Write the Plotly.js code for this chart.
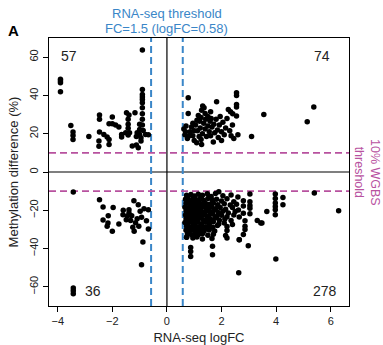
<!DOCTYPE html>
<html>
<head>
<meta charset="utf-8">
<script src="https://cdn.plot.ly/plotly-3.0.1.min.js"></script>
<style>html,body{margin:0;padding:0;background:#fff;}#chart{width:383px;height:345px;}</style>
</head>
<body>
<div id="chart"></div>
<script>
// Upper-left quadrant (down-regulated, hypermethylated)
const ulX = [-0.90,-3.9,-3.9,-3.9,-3.9,-3.52,-3.44,-3.44,-3.44,-2.86,-2.47,-2.47,-2.47,-2.49,-2.49,-2.31,-2.19,-2.12,-2.12,-2.0,-2.12,-2.0,-1.88,-1.76,-1.66,-1.66,-1.48,-1.39,-1.42,-1.42,-1.42,-1.51,-1.42,-1.37,-1.17,-1.27,-1.12,-1.05,-1.0,-1.0,-1.0,-0.9,-0.9,-0.9,-0.9,-0.9,-0.9,-0.9,-0.9,-0.9,-0.87,-0.78,-0.68,-1.09,-1.12,-0.95,-0.95];
const ulY = [63.7,48.4,47.5,46.6,41.9,24.3,20.9,19.1,17.0,18.6,29.8,27.5,20.9,16.2,13.4,19.6,18.3,17.0,14.4,28.7,25.2,25.2,24.5,23.5,19.6,18.3,31.0,29.8,27.5,24.9,22.8,20.5,19.3,20.5,31.0,13.6,14.1,12.7,24.9,22.2,19.6,43.1,40.5,39.2,37.9,36.2,33.6,30.4,27.5,24.5,21.7,19.6,19.4,20.5,18.6,17.9,16.2];

// Upper-right quadrant (up-regulated, hypermethylated)
const urX = [0.62,0.66,0.70,0.75,0.78,0.78,0.85,0.90,0.95,1.00,1.05,1.09,1.12,1.18,1.20,1.22,1.25,1.27,1.27,1.31,1.36,1.30,1.35,1.40,1.42,1.45,1.50,1.50,1.55,1.58,1.60,1.62,1.65,1.70,1.72,1.75,1.80,1.82,1.85,1.88,1.92,1.95,2.00,2.05,2.10,2.15,2.20,2.25,2.33,2.41,2.30,2.35,2.40,2.45,2.55,2.55,2.55,2.55,2.55,2.60,3.10,3.55,5.14,5.38,0.68,0.95,1.15,1.40,1.60,1.10,0.82,1.00,1.25,2.00];
const urY = [22.5,19.5,24.0,17.5,38.8,30.6,21.0,23.5,19.0,16.5,24.5,15.3,21.5,18.5,26.5,23.0,28.5,14.4,32.2,34.5,33.6,20.0,25.5,22.5,27.5,18.5,29.0,24.0,21.0,26.5,19.0,28.0,23.5,15.7,25.0,20.5,27.5,36.7,22.0,18.0,24.5,29.0,21.0,26.0,19.5,23.0,28.0,32.7,31.5,30.4,21.5,19.0,24.5,17.5,41.4,40.0,35.3,33.9,29.2,19.5,18.6,30.1,26.3,33.9,21.0,25.5,29.5,30.5,31.5,27.0,19.0,21.5,17.0,16.5];

// Lower-left quadrant (down-regulated, hypomethylated)
const llX = [-3.43,-2.47,-2.34,-1.97,-2.15,-2.34,-2.16,-2.19,-2.0,-1.76,-1.61,-1.49,-1.33,-1.39,-1.21,-1.05,-1.29,-1.39,-0.84,-0.68,-0.93,-1.09,-1.03,-1.25,-1.2,-0.68,-0.88,-0.93,-3.43,-3.43,-3.43,-0.75,-1.15,-1.6,-0.98,-1.45];
const llY = [-10.4,-14.5,-18.3,-18.5,-22.8,-25.1,-26.6,-28.4,-31.0,-27.2,-22.3,-24.9,-25.4,-19.7,-15.0,-17.1,-22.8,-21.4,-19.2,-19.7,-23.7,-24.4,-28.4,-28.9,-31.0,-29.8,-36.6,-48.4,-60.6,-62.0,-63.6,-25.5,-26.5,-20.0,-20.5,-23.0];

// Lower-right quadrant (up-regulated, hypomethylated)
const lrX = [
0.72,0.88,1.02,1.15,1.30,1.48,1.62,1.78,1.90,2.05,2.35,2.60,
0.68,0.80,0.95,1.08,1.22,1.35,1.50,1.66,1.82,2.00,2.20,2.45,2.80,
0.70,0.83,0.92,1.05,1.18,1.28,1.42,1.55,1.70,1.86,2.10,2.32,2.55,
0.66,0.78,0.90,1.00,1.12,1.25,1.38,1.52,1.64,1.78,1.95,2.15,2.40,2.62,3.04,
0.70,0.82,0.94,1.06,1.16,1.30,1.44,1.58,1.72,1.88,2.05,2.25,2.50,2.80,3.04,
0.68,0.80,0.92,1.04,1.14,1.26,1.40,1.54,1.68,1.82,2.00,2.20,2.45,2.65,
0.70,0.84,0.96,1.08,1.20,1.34,1.48,1.60,1.76,1.92,2.12,2.35,2.86,
0.66,0.78,0.90,1.02,1.14,1.28,1.42,1.56,1.70,1.90,2.10,2.40,
0.72,0.86,0.98,1.10,1.24,1.38,1.52,1.68,1.85,2.20,2.86,
0.70,0.82,0.96,1.08,1.22,1.36,1.55,1.75,2.20,2.86,
0.75,0.90,1.02,1.16,1.30,1.50,1.70,2.15,2.80,
0.72,0.95,1.10,1.30,1.65,2.20,2.65,
0.72,0.87,0.87,0.87,1.67,1.67,2.63,2.98,2.65,3.31,3.44,3.04,2.80,3.04,3.04,
3.97,3.97,3.97,3.97,3.97,3.97,4.25,4.25,3.66,3.48,3.99,5.40,6.29,
0.76,0.93,1.13,1.33,1.57,1.45,1.12,0.98,0.85,1.26,1.62,1.04];
const lrY = [
-12.1,-11.8,-12.5,-11.6,-12.2,-11.4,-12.8,-11.2,-10.3,-12.4,-12.0,-13.0,
-14.2,-14.8,-13.9,-14.5,-14.1,-14.9,-13.8,-14.6,-14.3,-15.2,-14.0,-15.5,-15.0,
-16.3,-16.8,-15.9,-16.5,-16.1,-17.0,-16.4,-16.9,-16.2,-17.1,-16.6,-17.3,-16.8,
-18.4,-18.9,-18.1,-18.7,-18.2,-19.0,-18.3,-18.8,-18.0,-19.2,-18.6,-19.4,-18.5,-19.8,-17.5,
-20.4,-20.9,-20.1,-20.7,-20.2,-21.0,-20.3,-20.8,-20.0,-21.2,-20.5,-21.4,-20.6,-21.5,-21.8,
-22.4,-22.9,-22.1,-22.7,-22.2,-23.0,-22.3,-22.8,-22.0,-23.2,-22.6,-23.4,-22.5,-23.5,
-24.4,-24.9,-24.1,-24.7,-24.2,-25.0,-24.3,-24.8,-24.0,-25.2,-24.6,-25.4,-25.5,
-26.4,-26.9,-26.1,-26.7,-26.2,-27.0,-26.3,-26.8,-26.0,-27.2,-26.6,-27.4,
-28.4,-28.9,-28.1,-28.7,-28.2,-29.0,-28.3,-28.8,-28.0,-28.5,-28.4,
-30.4,-30.9,-30.1,-30.7,-30.2,-31.0,-30.3,-30.8,-30.5,-30.1,
-32.4,-32.8,-32.1,-32.7,-32.2,-33.0,-32.5,-33.2,-32.7,
-34.1,-34.5,-34.0,-35.0,-34.8,-34.5,-35.4,
-34.1,-39.4,-41.5,-44.1,-38.8,-43.2,-52.6,-38.5,-35.4,-25.4,-26.6,-11.5,-17.8,-15.5,-19.0,
-11.5,-13.9,-16.2,-18.0,-19.7,-22.3,-13.3,-17.1,-20.6,-26.6,-45.4,-11.0,-20.2,
-13.0,-15.0,-19.5,-21.5,-25.5,-29.5,-31.5,-27.5,-23.5,-13.5,-21.0,-29.0];

// Quadrant counts
const countText = ["57","74","36","278"];
const countX = [-3.59, 5.67, -2.7, 5.8];
const countY = [60.6, 60.6, -62.3, -62.3];

const rnaThr = 0.58;   // logFC threshold
const wgbsThr = 10;    // % methylation threshold

const dot = {color:'#000', size:5.5};
const traces = [
  {x:ulX, y:ulY, type:'scatter', mode:'markers', marker:dot, hoverinfo:'skip'},
  {x:urX, y:urY, type:'scatter', mode:'markers', marker:dot, hoverinfo:'skip'},
  {x:llX, y:llY, type:'scatter', mode:'markers', marker:dot, hoverinfo:'skip'},
  {x:lrX, y:lrY, type:'scatter', mode:'markers', marker:dot, hoverinfo:'skip'}
];

const blue = '#3a86c8';
const magenta = '#b8529f';
const font = 'Liberation Sans, Arial, sans-serif';

const shapes = [
  {type:'line', xref:'x', yref:'paper', x0:0, x1:0, y0:0, y1:1, line:{color:'#000', width:1.2}, layer:'below'},
  {type:'line', xref:'paper', yref:'y', x0:0, x1:1, y0:0, y1:0, line:{color:'#000', width:1.2}, layer:'below'},
  {type:'line', xref:'x', yref:'paper', x0:-rnaThr, x1:-rnaThr, y0:0, y1:1, line:{color:blue, width:2, dash:'7px,4px'}, layer:'below'},
  {type:'line', xref:'x', yref:'paper', x0:rnaThr, x1:rnaThr, y0:0, y1:1, line:{color:blue, width:2, dash:'7px,4px'}, layer:'below'},
  {type:'line', xref:'paper', yref:'y', x0:0, x1:1, y0:wgbsThr, y1:wgbsThr, line:{color:magenta, width:1.6, dash:'7px,4px'}, layer:'below'},
  {type:'line', xref:'paper', yref:'y', x0:0, x1:1, y0:-wgbsThr, y1:-wgbsThr, line:{color:magenta, width:1.6, dash:'7px,4px'}, layer:'below'}
];

const annotations = countText.map((t,i)=>({x:countX[i], y:countY[i], xref:'x', yref:'y', text:t, showarrow:false, font:{family:font, size:14, color:'#222'}}));
annotations.push(
  {x:0, y:1, xref:'x', yref:'paper', yshift:25, yanchor:'middle', text:'RNA-seq threshold', showarrow:false, font:{family:font, size:13, color:blue}},
  {x:0, y:1, xref:'x', yref:'paper', yshift:10, yanchor:'middle', text:'FC=1.5 (logFC=0.58)', showarrow:false, font:{family:font, size:13, color:blue}},
  {x:1, y:0, xref:'paper', yref:'y', xshift:18, xanchor:'center', text:'10% WGBS<br>threshold', textangle:90, showarrow:false, font:{family:font, size:12.5, color:magenta}},
  {x:-0.12, y:1, xref:'paper', yref:'paper', xanchor:'center', yanchor:'bottom', yshift:-3, text:'<b>A</b>', showarrow:false, font:{family:font, size:15, color:'#000'}},
  {x:-0.12, y:-0.15, xref:'paper', yref:'paper', xanchor:'center', yanchor:'top', text:'<b>C</b>', showarrow:false, font:{family:font, size:15, color:'#000'}}
);

const layout = {
  width:383, height:345,
  margin:{l:49, r:34, t:38, b:39},
  paper_bgcolor:'#fff', plot_bgcolor:'#fff',
  showlegend:false,
  font:{family:font, color:'#222'},
  xaxis:{range:[-4.32,6.67], tick0:0, dtick:2, showgrid:false, zeroline:false,
    showline:true, mirror:true, linecolor:'#000', linewidth:1.2,
    ticks:'outside', ticklen:5, tickcolor:'#000', tickwidth:1,
    tickfont:{family:font, size:11, color:'#222'},
    title:{text:'RNA-seq logFC', font:{family:font, size:13, color:'#222'}, standoff:7}},
  yaxis:{range:[-70,70], tick0:0, dtick:20, showgrid:false, zeroline:false,
    showline:true, mirror:true, linecolor:'#000', linewidth:1.2,
    ticks:'outside', ticklen:5, tickcolor:'#000', tickwidth:1, tickangle:-90,
    tickfont:{family:font, size:11, color:'#222'},
    title:{text:'Methylation difference (%)', font:{family:font, size:13, color:'#222'}, standoff:6}},
  shapes:shapes,
  annotations:annotations
};

Plotly.newPlot('chart', traces, layout, {displayModeBar:false, staticPlot:true});
</script>
</body>
</html>
